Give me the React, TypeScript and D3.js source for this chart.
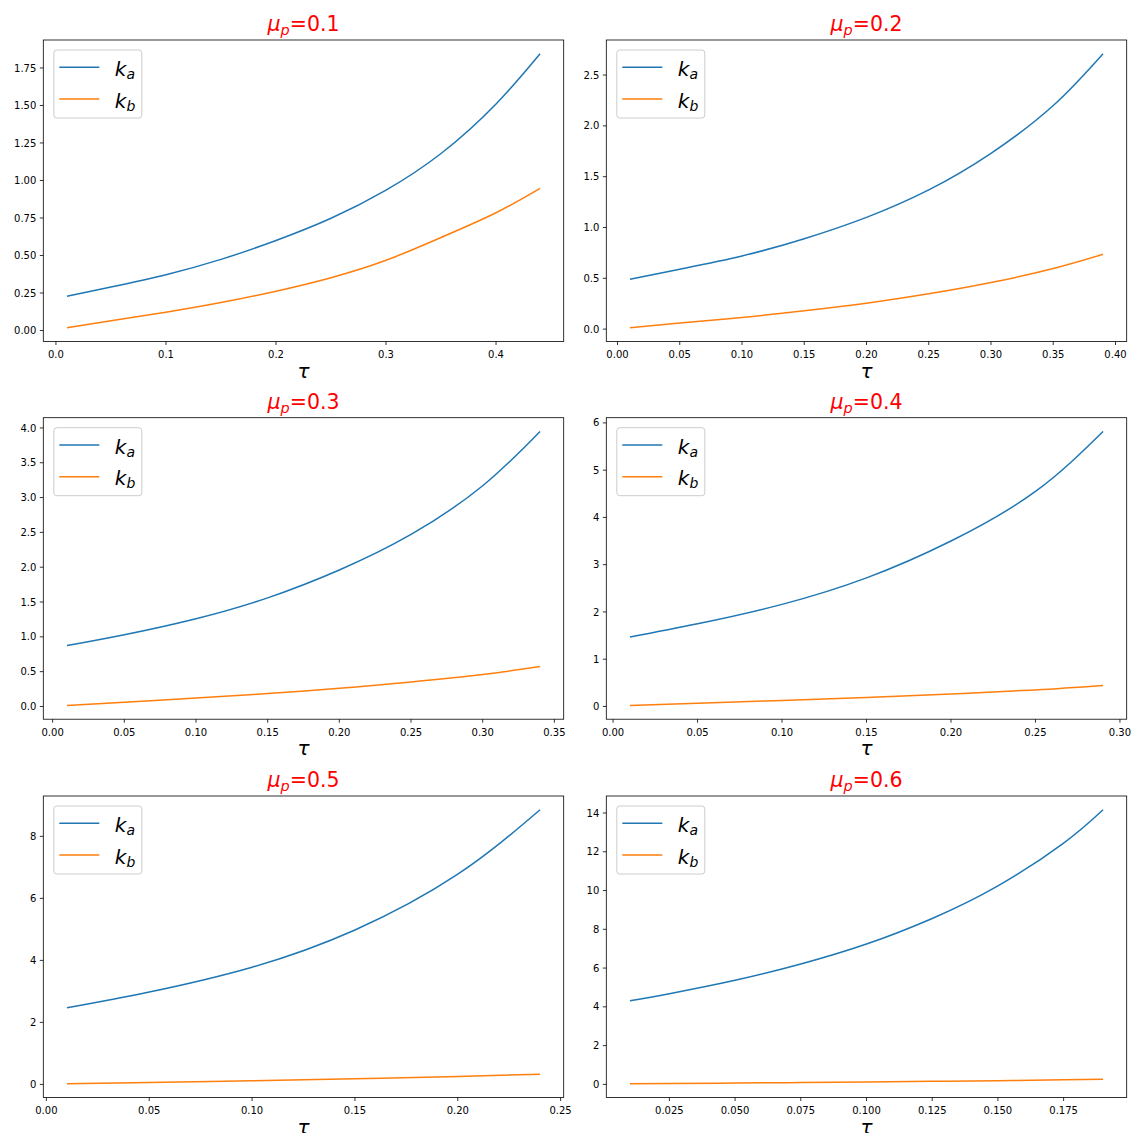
import React from "react";
import * as d3 from "d3";

const MU_LABELS = ["0.1", "0.2", "0.3", "0.4", "0.5", "0.6"];

const TAU_1 = [0.01, 0.05, 0.1, 0.15, 0.2, 0.25, 0.3, 0.35, 0.4, 0.44];
const KA_1 = [0.228, 0.29, 0.372, 0.474, 0.6, 0.748, 0.936, 1.18, 1.51, 1.845];
const KB_1 = [0.018, 0.065, 0.122, 0.186, 0.262, 0.352, 0.468, 0.62, 0.785, 0.947];

const TAU_2 = [0.01, 0.05, 0.1, 0.15, 0.2, 0.25, 0.3, 0.35, 0.39];
const KA_2 = [0.49, 0.59, 0.72, 0.89, 1.1, 1.37, 1.73, 2.2, 2.71];
const KB_2 = [0.013, 0.06, 0.115, 0.18, 0.255, 0.347, 0.458, 0.596, 0.736];

const TAU_3 = [0.01, 0.05, 0.1, 0.15, 0.2, 0.25, 0.3, 0.34];
const KA_3 = [0.874, 1.03, 1.26, 1.56, 1.96, 2.47, 3.17, 3.95];
const KB_3 = [0.014, 0.06, 0.12, 0.186, 0.26, 0.353, 0.46, 0.573];

const TAU_4 = [0.01, 0.05, 0.1, 0.15, 0.2, 0.25, 0.29];
const KA_4 = [1.47, 1.75, 2.16, 2.72, 3.5, 4.55, 5.82];
const KB_4 = [0.02, 0.07, 0.127, 0.19, 0.265, 0.35, 0.444];

const TAU_5 = [0.01, 0.05, 0.1, 0.15, 0.2, 0.24];
const KA_5 = [2.47, 2.98, 3.78, 4.98, 6.78, 8.86];
const KB_5 = [0.02, 0.065, 0.12, 0.18, 0.255, 0.33];

const TAU_6 = [0.01, 0.025, 0.05, 0.075, 0.1, 0.125, 0.15, 0.175, 0.19];
const KA_6 = [4.31, 4.68, 5.37, 6.21, 7.24, 8.56, 10.24, 12.45, 14.17];
const KB_6 = [0.03, 0.045, 0.07, 0.095, 0.125, 0.155, 0.19, 0.235, 0.26];

const XTICKS_1 = [0, 0.1, 0.2, 0.3, 0.4];
const XTICKS_2 = [0, 0.05, 0.1, 0.15, 0.2, 0.25, 0.3, 0.35, 0.4];
const XTICKS_3 = [0, 0.05, 0.1, 0.15, 0.2, 0.25, 0.3, 0.35];
const XTICKS_4 = [0, 0.05, 0.1, 0.15, 0.2, 0.25, 0.3];
const XTICKS_5 = [0, 0.05, 0.1, 0.15, 0.2, 0.25];
const XTICKS_6 = [0.025, 0.05, 0.075, 0.1, 0.125, 0.15, 0.175];
const XFMT = [".1f", ".2f", ".2f", ".2f", ".2f", ".3f"];

const YTICKS_1 = [0, 0.25, 0.5, 0.75, 1.0, 1.25, 1.5, 1.75];
const YTICKS_2 = [0, 0.5, 1.0, 1.5, 2.0, 2.5];
const YTICKS_3 = [0, 0.5, 1.0, 1.5, 2.0, 2.5, 3.0, 3.5, 4.0];
const YTICKS_4 = [0, 1, 2, 3, 4, 5, 6];
const YTICKS_5 = [0, 2, 4, 6, 8];
const YTICKS_6 = [0, 2, 4, 6, 8, 10, 12, 14];
const YFMT = [".2f", ".1f", ".1f", ".0f", ".0f", ".0f"];

const SERIES_NAMES = ["a", "b"];
const COLORS = ["#1f77b4", "#ff7f0e"];

const PANELS = [
  { tau: TAU_1, ka: KA_1, kb: KB_1, xt: XTICKS_1, yt: YTICKS_1 },
  { tau: TAU_2, ka: KA_2, kb: KB_2, xt: XTICKS_2, yt: YTICKS_2 },
  { tau: TAU_3, ka: KA_3, kb: KB_3, xt: XTICKS_3, yt: YTICKS_3 },
  { tau: TAU_4, ka: KA_4, kb: KB_4, xt: XTICKS_4, yt: YTICKS_4 },
  { tau: TAU_5, ka: KA_5, kb: KB_5, xt: XTICKS_5, yt: YTICKS_5 },
  { tau: TAU_6, ka: KA_6, kb: KB_6, xt: XTICKS_6, yt: YTICKS_6 },
];

const LEFTS = [43.3, 606.3];
const TOPS = [40, 417.7, 796];
const W = 520.4;
const H = 301.5;
const FONT = "DejaVu Sans, sans-serif";

function Panel({ idx }: { idx: number }) {
  const p = PANELS[idx];
  const left = LEFTS[idx % 2];
  const top = TOPS[Math.floor(idx / 2)];
  const [x0, x1] = d3.extent(p.tau) as [number, number];
  const allY = [...p.ka, ...p.kb];
  const y0 = d3.min(allY) as number;
  const y1 = d3.max(allY) as number;
  const mx = (x1 - x0) * 0.05;
  const my = (y1 - y0) * 0.05;
  const x = d3.scaleLinear().domain([x0 - mx, x1 + mx]).range([left, left + W]);
  const y = d3.scaleLinear().domain([y0 - my, y1 + my]).range([top + H, top]);
  const line = d3
    .line<number>()
    .x((_, i) => x(p.tau[i]))
    .y((d) => y(d))
    .curve(d3.curveNatural);
  const xf = d3.format(XFMT[idx]);
  const yf = d3.format(YFMT[idx]);
  const series = [p.ka, p.kb];
  const lx = left + 10.5;
  const ly = top + 10;
  return (
    <g fontFamily={FONT}>
      {series.map((s, i) => (
        <path key={i} d={line(s) || ""} fill="none" stroke={COLORS[i]} strokeWidth={1.5} />
      ))}
      <rect x={left} y={top} width={W} height={H} fill="none" stroke="#000" strokeWidth={0.8} />
      {p.xt.map((t) => (
        <g key={"x" + t}>
          <line x1={x(t)} x2={x(t)} y1={top + H} y2={top + H + 3.5} stroke="#000" strokeWidth={0.8} />
          <text x={x(t)} y={top + H + 16.5} textAnchor="middle" fontSize={10} fill="#000">
            {xf(t)}
          </text>
        </g>
      ))}
      {p.yt.map((t) => (
        <g key={"y" + t}>
          <line x1={left - 3.5} x2={left} y1={y(t)} y2={y(t)} stroke="#000" strokeWidth={0.8} />
          <text x={left - 7} y={y(t) + 3.6} textAnchor="end" fontSize={10} fill="#000">
            {yf(t)}
          </text>
        </g>
      ))}
      <text x={left + W / 2} y={top + H + 36} textAnchor="middle" fontSize={20} fontStyle="italic" fill="#000">
        τ
      </text>
      <text x={left + W / 2} y={top - 9} textAnchor="middle" fontSize={20.5} fill="red">
        <tspan fontStyle="italic">μ</tspan>
        <tspan fontStyle="italic" fontSize={14.5} dy={4}>p</tspan>
        <tspan dy={-4}>={MU_LABELS[idx]}</tspan>
      </text>
      <rect x={lx} y={ly} width={88} height={68} rx={3} fill="#fff" fillOpacity={0.8} stroke="#cccccc" strokeWidth={1} />
      {SERIES_NAMES.map((n, i) => (
        <g key={n}>
          <line x1={lx + 5.5} x2={lx + 45.5} y1={ly + 17.3 + i * 31.7} y2={ly + 17.3 + i * 31.7} stroke={COLORS[i]} strokeWidth={1.5} />
          <text x={lx + 61} y={ly + 26 + i * 31.7} fontSize={20} fontStyle="italic" fill="#000">
            k<tspan fontSize={14} dy={3}>{n}</tspan>
          </text>
        </g>
      ))}
    </g>
  );
}

export default function App() {
  return (
    <div style={{ position: "absolute", left: 0, top: 0 }}>
      <svg width={1133} height={1133} style={{ display: "block", background: "#fff" }}>
        <rect x={0} y={0} width={1133} height={1133} fill="#fff" />
        {PANELS.map((_, i) => (
          <Panel key={i} idx={i} />
        ))}
      </svg>
    </div>
  );
}
